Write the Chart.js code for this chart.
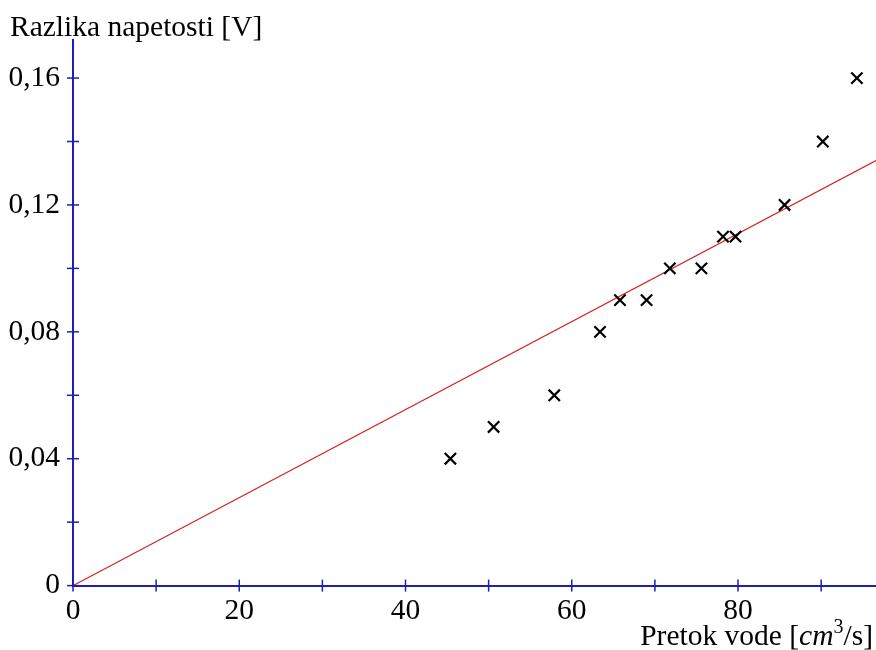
<!DOCTYPE html>
<html>
<head>
<meta charset="utf-8">
<script src="https://cdn.jsdelivr.net/npm/chart.js@4"></script>
<style>
  body { margin: 0; background: #fff; }
  #wrap { width: 876px; height: 650px; }
</style>
</head>
<body>
<div id="wrap"><canvas id="chart" width="876" height="650"></canvas></div>
<script>
// measured points: water flow [cm^3/s] vs voltage difference [V]
const flow = [45.4, 50.6, 57.9, 63.4, 65.8, 69.0, 71.8, 75.6, 78.2, 79.7, 85.6, 90.2, 94.3];
const voltage = [0.04, 0.05, 0.06, 0.08, 0.09, 0.09, 0.10, 0.10, 0.11, 0.11, 0.12, 0.14, 0.16];

// fitted line through origin
const fitX = [0, 96.6];
const fitY = [0, 0.134];

const xTicks = [0, 10, 20, 30, 40, 50, 60, 70, 80, 90];
const xLabels = ["0", "", "20", "", "40", "", "60", "", "80", ""];
const yTicks = [0, 0.02, 0.04, 0.06, 0.08, 0.10, 0.12, 0.14, 0.16];
const yLabels = ["0", "", "0,04", "", "0,08", "", "0,12", "", "0,16"];

const yTitle = "Razlika napetosti [V]";
const xTitle = ["Pretok vode [", "cm", "3", "/s]"];

const axisBlue = "#1e1eb0";
const serif = "'Liberation Serif', 'Times New Roman', serif";

// tick marks crossing the axes + axis titles
const axisDecor = {
    id: "axisDecor",
    afterDraw(chart) {
        const c = chart.ctx;
        const xs = chart.scales.x, ys = chart.scales.y;
        const x0 = xs.getPixelForValue(0), y0 = ys.getPixelForValue(0);
        c.save();
        c.strokeStyle = axisBlue;
        c.lineWidth = 1.5;
        xTicks.forEach(v => {
            const px = xs.getPixelForValue(v);
            c.beginPath(); c.moveTo(px, y0 - 6); c.lineTo(px, y0 + 6); c.stroke();
        });
        yTicks.forEach(v => {
            const py = ys.getPixelForValue(v);
            c.beginPath(); c.moveTo(x0 - 6, py); c.lineTo(x0 + 6, py); c.stroke();
        });

        c.fillStyle = "#000";
        c.textBaseline = "alphabetic";
        c.textAlign = "left";
        c.font = "29.5px " + serif;
        c.fillText(yTitle, 10, 36);

        // x title, right aligned with italic "cm" and superscript 3
        const parts = [
            { t: xTitle[0], f: "29.5px " + serif, dy: 0 },
            { t: xTitle[1], f: "italic 29.5px " + serif, dy: 0 },
            { t: xTitle[2], f: "20px " + serif, dy: -12 },
            { t: xTitle[3], f: "29.5px " + serif, dy: 0 }
        ];
        let w = 0;
        parts.forEach(p => { c.font = p.f; p.w = c.measureText(p.t).width; w += p.w; });
        let x = 873 - w;
        parts.forEach(p => { c.font = p.f; c.fillText(p.t, x, 645 + p.dy); x += p.w; });
        c.restore();
    }
};

new Chart(document.getElementById("chart"), {
    type: "scatter",
    data: {
        datasets: [
            {
                label: "meritve",
                data: flow.map((f, i) => ({ x: f, y: voltage[i] })),
                pointStyle: "crossRot",
                pointRadius: 8,
                pointBorderWidth: 2.2,
                borderColor: "#000",
                backgroundColor: "#000"
            },
            {
                type: "line",
                label: "fit",
                data: fitX.map((f, i) => ({ x: f, y: fitY[i] })),
                borderColor: "#d42020",
                borderWidth: 1.2,
                pointRadius: 0,
                fill: false
            }
        ]
    },
    options: {
        responsive: false,
        animation: false,
        layout: { autoPadding: false, padding: { top: 40, left: 8, right: 0, bottom: 13 } },
        plugins: {
            legend: { display: false },
            tooltip: { enabled: false }
        },
        scales: {
            x: {
                type: "linear",
                min: 0,
                max: 96.6,
                afterBuildTicks: s => { s.ticks = xTicks.map(v => ({ value: v })); },
                grid: { display: false, drawTicks: false },
                border: { color: axisBlue, width: 2 },
                ticks: {
                    padding: 8,
                    color: "#000",
                    font: { family: serif, size: 29.5 },
                    maxRotation: 0,
                    autoSkip: false,
                    callback: (v) => xLabels[xTicks.indexOf(v)] ?? ""
                }
            },
            y: {
                type: "linear",
                min: 0,
                max: 0.172,
                afterBuildTicks: s => { s.ticks = yTicks.map(v => ({ value: v })); },
                afterFit: s => { s.width = 65; },
                grid: { display: false, drawTicks: false },
                border: { color: axisBlue, width: 2 },
                ticks: {
                    padding: 13,
                    color: "#000",
                    font: { family: serif, size: 29.5 },
                    autoSkip: false,
                    callback: (v) => {
                        const i = yTicks.findIndex(t => Math.abs(t - v) < 1e-9);
                        return i >= 0 ? yLabels[i] : "";
                    }
                }
            }
        }
    },
    plugins: [axisDecor]
});
</script>
</body>
</html>
